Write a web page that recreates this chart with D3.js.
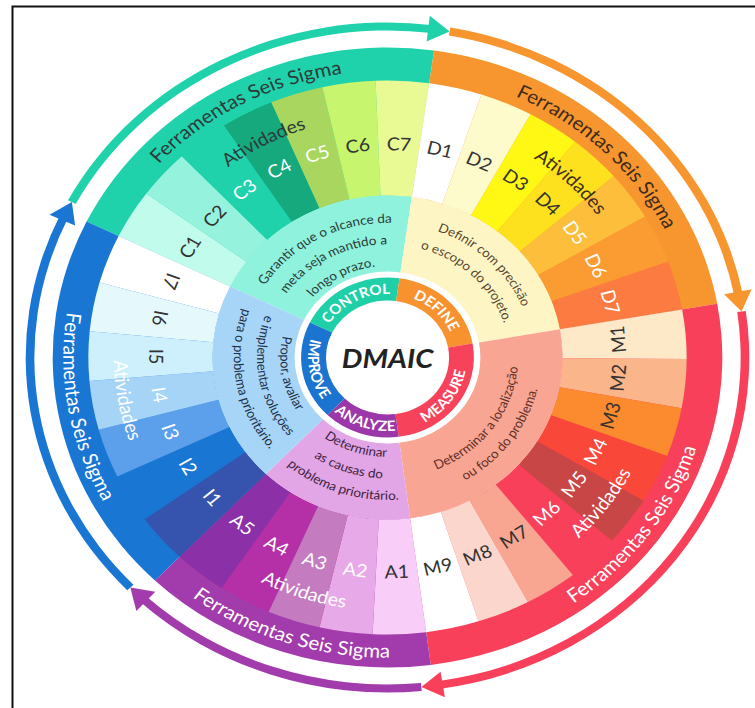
<!DOCTYPE html>
<html>
<head>
<meta charset="utf-8">
<title>DMAIC</title>
<style>
body { margin: 0; background: #ffffff; }
svg text { font-family: Lato, 'Open Sans', sans-serif; }
</style>
</head>
<body>
<script src="https://cdn.jsdelivr.net/npm/d3@7"></script>
<script>
'use strict';

// phases of the cycle, in clockwise order starting at upper left
const phases = ['CONTROL', 'DEFINE', 'MEASURE', 'ANALYZE', 'IMPROVE'];
const phaseKeys = ['C', 'D', 'M', 'A', 'I'];

// activities of each phase
const activities = [
	'C1', 'C2', 'C3', 'C4', 'C5', 'C6', 'C7',
	'D1', 'D2', 'D3', 'D4', 'D5', 'D6', 'D7',
	'M1', 'M2', 'M3', 'M4', 'M5', 'M6', 'M7', 'M8', 'M9',
	'A1', 'A2', 'A3', 'A4', 'A5',
	'I1', 'I2', 'I3', 'I4', 'I5', 'I6', 'I7'
];

// goal of each phase
const descriptions = [
	['Garantir que o alcance da', 'meta seja mantido a', 'longo prazo.'],
	['Definir com precisão', 'o escopo do projeto.'],
	['Determinar a localização', 'ou foco do problema.'],
	['Determinar', 'as causas do', 'problema prioritário.'],
	['Propor, avaliar', 'e implementar soluções', 'para o problema prioritário.']
];

const toolsLabel = 'Ferramentas Seis Sigma';
const activitiesLabel = 'Atividades';
const title = 'DMAIC';

// colours
const bandColor = ['#1fd2ab', '#f7952f', '#f8405b', '#a23bab', '#1a76d3'];
const ringColor = ['#1ecfa8', '#f7922e', '#f6425b', '#9b37a8', '#1a74d0'];
const descColor = ['#8ef2dc', '#fdf6c4', '#f9a593', '#e2a5e5', '#a7d5f7'];
const descTextColor = ['#2d3a37', '#5a4630', '#5e3028', '#3e2440', '#1f3048'];
const bandTextColor = ['#2c3a38', '#3d2b1b', '#ffffff', '#ffffff', '#ffffff'];
const activityColor = [
	'#c0fbec', '#95f2dc', '#1fd2ab', '#15a97d', '#a8d65e', '#c7f56d', '#e9fa95',
	'#ffffff', '#fdfacb', '#fff714', '#fde11f', '#fdbe3c', '#fb9c33', '#fc7b40',
	'#fde8c8', '#fbb58b', '#fc8a2e', '#f9483a', '#c84646', '#f8405b', '#f8a592', '#fbd6cc', '#ffffff',
	'#f8cdf8', '#e8a9e8', '#c47bc0', '#b530a6', '#8b30a6',
	'#3653ad', '#1a76d3', '#5c9fea', '#a5d4f7', '#cdf0fc', '#e5f9fd', '#ffffff'
];
const lightLabels = ['C3', 'C4', 'C5', 'D5', 'D6', 'D7', 'M4', 'M5', 'M6',
	'A2', 'A3', 'A4', 'A5', 'I1', 'I2', 'I3', 'I4'];

// geometry (the wheel is slightly wider than tall)
const W = 755, H = 708;
const cx = 387.5, cy = 357.5, sx = 1.08;
const R = {hole: 57, ring: 80, gap: 86, desc: 162, act: 277, band: 310, arrow: 331};
const deg = Math.PI / 180;
const start = 296 * deg;

const svg = d3.select('body').append('svg')
	.attr('width', W)
	.attr('height', H);
const defs = svg.append('defs');

svg.append('rect')
	.attr('x', 12.5).attr('y', 6.5)
	.attr('width', 800).attr('height', 800)
	.attr('fill', 'none')
	.attr('stroke', '#111111')
	.attr('stroke-width', 2);

const g = svg.append('g')
	.attr('transform', 'translate(' + cx + ',' + cy + ') scale(' + sx + ',1)');

const phaseData = phases.map(function(name, i) {
	return {name: name, i: i, count: activities.filter(function(a) { return a[0] === phaseKeys[i]; }).length};
});

const pie = d3.pie()
	.sort(null)
	.value(function(d) { return d.count; })
	.startAngle(start)
	.endAngle(start + 2 * Math.PI);
const slices = pie(phaseData);

const angle = d3.scaleBand()
	.domain(activities)
	.range([start, start + 2 * Math.PI]);

function pt(r, a) { return [r * Math.sin(a), -r * Math.cos(a)]; }
function mid(s) { return (s.startAngle + s.endAngle) / 2; }
function clockwise(a) { return Math.cos(a) > 0; }

let pathId = 0;
function curvedText(txt, r, a, cw, size, color, weight) {
	const off = 0.35 * size;
	const rb = cw ? r - off : r + off;
	const span = 85 * deg;
	const p0 = pt(rb, cw ? a - span : a + span);
	const p1 = pt(rb, cw ? a + span : a - span);
	const id = 'tp' + (pathId++);
	defs.append('path')
		.attr('id', id)
		.attr('d', 'M' + p0 + 'A' + rb + ',' + rb + ' 0 0 ' + (cw ? 1 : 0) + ' ' + p1);
	g.append('text')
		.attr('font-size', size)
		.attr('font-weight', weight || 400)
		.attr('fill', color)
		.append('textPath')
		.attr('href', '#' + id)
		.attr('startOffset', '50%')
		.attr('text-anchor', 'middle')
		.text(txt);
}

// outer band, filled down to the activity ring
g.selectAll('.band')
	.data(slices)
	.enter()
	.append('path')
	.attr('class', 'band')
	.attr('d', d3.arc().innerRadius(R.desc).outerRadius(R.band))
	.attr('fill', function(d) { return bandColor[d.data.i]; });

// activity wedges
g.selectAll('.act')
	.data(activities)
	.enter()
	.append('path')
	.attr('class', 'act')
	.attr('d', function(a) {
		return d3.arc()({innerRadius: R.desc, outerRadius: R.act,
			startAngle: angle(a), endAngle: angle(a) + angle.bandwidth()});
	})
	.attr('fill', function(a, i) { return activityColor[i]; });

// phase descriptions
g.selectAll('.desc')
	.data(slices)
	.enter()
	.append('path')
	.attr('class', 'desc')
	.attr('d', d3.arc().innerRadius(R.ring).outerRadius(R.desc))
	.attr('fill', function(d) { return descColor[d.data.i]; });

g.append('circle').attr('r', R.gap).attr('fill', '#ffffff');

// inner phase ring
g.selectAll('.ring')
	.data(slices)
	.enter()
	.append('path')
	.attr('class', 'ring')
	.attr('d', d3.arc().innerRadius(R.hole).outerRadius(R.ring))
	.attr('fill', function(d) { return ringColor[d.data.i]; });

// activity labels, turned like the text of their phase
activities.forEach(function(a) {
	const m = angle(a) + angle.bandwidth() / 2;
	const s = slices[phaseKeys.indexOf(a[0])];
	const p = pt(214, m);
	const rot = clockwise(mid(s)) ? m / deg : m / deg - 180;
	g.append('text')
		.attr('transform', 'translate(' + p + ') rotate(' + rot + ')')
		.attr('text-anchor', 'middle')
		.attr('dominant-baseline', 'central')
		.attr('font-size', 18)
		.attr('fill', lightLabels.indexOf(a) >= 0 ? '#ffffff' : '#333333')
		.text(a);
});

// texts per phase
slices.forEach(function(s) {
	const i = s.data.i;
	const a = mid(s);
	const cw = clockwise(a);
	curvedText(toolsLabel, 293.5, a, cw, 19, bandTextColor[i]);
	curvedText(activitiesLabel, 247, a, cw, 18, bandTextColor[i]);
	curvedText(s.data.name, 68.5, a, cw, 14, '#ffffff', 700);
	const lines = descriptions[i];
	lines.forEach(function(line, k) {
		const r = cw ? 139 - 21.5 * k : 138 - 21.5 * (lines.length - 1 - k);
		curvedText(line, r, a, cw, 12.5, descTextColor[i]);
	});
});

g.append('text')
	.attr('text-anchor', 'middle')
	.attr('dominant-baseline', 'central')
	.attr('font-size', 27)
	.attr('font-style', 'italic')
	.attr('font-weight', 700)
	.attr('fill', '#222222')
	.text(title);

// arrows around the wheel
const arrowArc = d3.arc().innerRadius(R.arrow - 4).outerRadius(R.arrow + 4);
slices.forEach(function(s) {
	const i = s.data.i;
	const tip = s.endAngle + 2 * deg;
	const from = s.startAngle + 2 * deg;
	const head = 20 / R.arrow;
	g.append('path')
		.attr('d', arrowArc({startAngle: from, endAngle: tip - head * 0.8}))
		.attr('fill', bandColor[i]);
	g.append('path')
		.attr('d', 'M' + pt(R.arrow, tip) + 'L' + pt(R.arrow + 13, tip - head) + 'L' + pt(R.arrow - 13, tip - head) + 'Z')
		.attr('fill', bandColor[i]);
});
</script>
</body>
</html>
